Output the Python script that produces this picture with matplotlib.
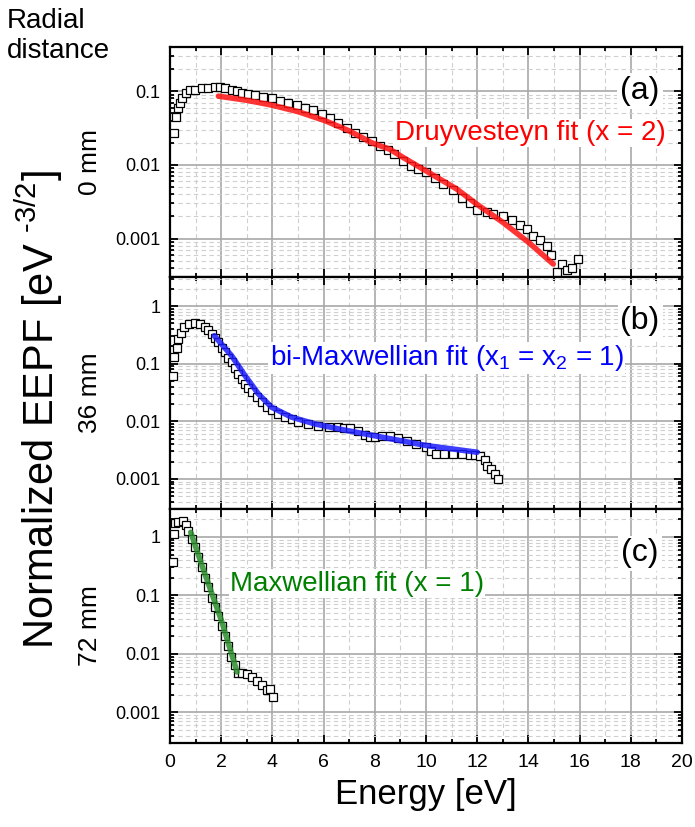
import numpy as np
import matplotlib
matplotlib.use('Agg')
import matplotlib.pyplot as plt
from matplotlib.ticker import LogLocator, MultipleLocator, FuncFormatter, NullFormatter

plt.rcParams['font.family'] = ['Liberation Sans', 'DejaVu Sans']
plt.rcParams['mathtext.fontset'] = 'custom'
plt.rcParams['mathtext.rm'] = 'Liberation Sans'
plt.rcParams['mathtext.it'] = 'Liberation Sans:italic'

# panel (a), 0 mm
e_a = [0.17, 0.23, 0.30, 0.39, 0.48, 0.61, 0.78, 0.98, 1.24, 1.50, 1.76, 1.95,
       2.15, 2.41, 2.60, 2.80, 3.05, 3.32, 3.65, 3.97, 4.30, 4.62, 4.95, 5.27, 5.60, 5.92,
       6.25, 6.57, 6.90, 7.23, 7.55, 7.88, 8.20, 8.50, 8.75, 9.10, 9.40, 9.70, 10.0,
       10.35, 10.68, 11.05, 11.4, 11.7, 12.0, 12.37, 12.6, 13.0, 13.35, 13.67,
       13.93, 14.19, 14.45, 14.71, 14.9, 15.1, 15.3, 15.5, 15.7, 15.95]
f_a = [0.0275, 0.045, 0.060, 0.070, 0.082, 0.096, 0.103, 0.105, 0.110, 0.110, 0.114, 0.114,
       0.110, 0.103, 0.100, 0.096, 0.093, 0.089, 0.084, 0.080, 0.075, 0.070, 0.065, 0.060,
       0.055, 0.049, 0.043, 0.037, 0.032, 0.0275, 0.024, 0.021, 0.018, 0.0158, 0.014,
       0.0113, 0.0098, 0.0088, 0.0080, 0.0067, 0.0055, 0.0045, 0.0036, 0.0030, 0.00245,
       0.0023, 0.00215, 0.00204, 0.0018, 0.00155, 0.00134, 0.00109, 0.00095, 0.00078,
       0.0006, 0.00035, 0.00045, 0.00037, 0.0004, 0.00053]
fit_e_a = [1.89, 3.0, 3.97, 5.0, 6.05, 7.0, 7.88, 8.59, 9.11, 10.0, 11.2, 12.0, 13.0, 14.0, 14.97]
fit_f_a = [0.086, 0.0755, 0.065, 0.053, 0.040, 0.029, 0.020, 0.0163, 0.0126, 0.0083, 0.0047,
           0.0029, 0.00166, 0.00089, 0.00045]

# panel (b), 36 mm
e_b = [0.13, 0.16, 0.26, 0.33, 0.43, 0.56, 0.74, 0.98, 1.17, 1.37, 1.50, 1.63, 1.76, 1.89,
       2.02, 2.15, 2.28, 2.41, 2.54, 2.67, 2.80, 2.93, 3.06, 3.19, 3.38, 3.58, 3.78, 3.97,
       4.23, 4.49, 4.75, 5.01, 5.40, 5.79, 6.20, 6.57, 6.80, 7.03, 7.36, 7.60, 7.80, 8.0,
       8.30, 8.6, 8.90, 9.25, 9.60, 10.0, 10.2, 10.4, 10.7, 11.07, 11.4, 11.7, 11.9, 12.1,
       12.3, 12.4, 12.55, 12.7, 12.83]
f_b = [0.062, 0.129, 0.19, 0.268, 0.34, 0.43, 0.49, 0.51, 0.49, 0.43, 0.38, 0.33, 0.28,
       0.235, 0.19, 0.157, 0.128, 0.106, 0.083, 0.066, 0.055, 0.045, 0.038, 0.032, 0.026,
       0.0215, 0.018, 0.0154, 0.0135, 0.0118, 0.0108, 0.0099, 0.0091, 0.0084, 0.0081,
       0.0079, 0.0077, 0.0076, 0.0069, 0.0058, 0.0054, 0.0053, 0.0055, 0.0056, 0.0051,
       0.0046, 0.0041, 0.0036, 0.0031, 0.0027, 0.0027, 0.0027, 0.0027, 0.0026, 0.0026,
       0.0025, 0.0021, 0.0017, 0.0015, 0.00123, 0.001]
fit_e_b = [1.73, 2.41, 2.93, 3.45, 3.97, 4.75, 5.66, 6.57, 8.0, 10.0, 12.0]
fit_f_b = [0.306, 0.137, 0.062, 0.030, 0.0175, 0.0118, 0.0090, 0.0074, 0.0056, 0.0038, 0.0029]

# panel (c), 72 mm
e_c = [0.13, 0.16, 0.20, 0.33, 0.50, 0.62, 0.72, 0.85, 0.98, 1.11, 1.24, 1.37, 1.50, 1.63,
       1.76, 1.89, 2.02, 2.15, 2.28, 2.40, 2.54, 2.67, 2.80, 3.00, 3.19, 3.39, 3.58, 3.77,
       3.90, 4.04]
f_c = [0.37, 1.14, 1.7, 1.8, 1.86, 1.6, 1.25, 0.93, 0.67, 0.45, 0.30, 0.20, 0.137, 0.092,
       0.063, 0.044, 0.030, 0.020, 0.0135, 0.0089, 0.0065, 0.0047, 0.0048, 0.0046, 0.0040,
       0.0035, 0.0029, 0.0024, 0.0025, 0.0018]
fit_e_c = [0.81, 1.3, 2.02, 2.62]
fit_f_c = [1.2, 0.28, 0.036, 0.0049]

panels = [
    dict(e=e_a, f=f_a, fe=fit_e_a, ff=fit_f_a, ylim=(3e-4, 0.4), col='#ff1010', tcol='#ff0000',
         dist='0 mm', tag='(a)', label='Druyvesteyn fit (x = 2)', lx=0.439, ly=0.596),
    dict(e=e_b, f=f_b, fe=fit_e_b, ff=fit_f_b, ylim=(3e-4, 3.2), col='#1c1cff', tcol='#0000ff',
         dist='36 mm', tag='(b)', label=r'bi-Maxwellian fit (x$_{\rm 1}$ = x$_{\rm 2}$ = 1)',
         lx=0.195, ly=0.621),
    dict(e=e_c, f=f_c, fe=fit_e_c, ff=fit_f_c, ylim=(3e-4, 3.0), col='#2a8c2a', tcol='#008000',
         dist='72 mm', tag='(c)', label='Maxwellian fit (x = 1)', lx=0.117, ly=0.651),
]

W, H = 695, 827
fig = plt.figure(figsize=(6.95, 8.27), dpi=100)
rows = [(47, 277), (277, 509), (509, 743)]
axes = []
for (top, bot), p in zip(rows, panels):
    ax = fig.add_axes([170 / W, 1 - bot / H, 512 / W, (bot - top) / H])
    axes.append(ax)
    ax.set_yscale('log')
    ax.set_xlim(0, 20)
    ax.set_ylim(*p['ylim'])
    ax.xaxis.set_major_locator(MultipleLocator(2))
    ax.xaxis.set_minor_locator(MultipleLocator(1))
    ax.yaxis.set_major_locator(LogLocator(base=10))
    ax.yaxis.set_minor_locator(LogLocator(base=10, subs=np.arange(2, 10)))
    ax.yaxis.set_major_formatter(FuncFormatter(lambda v, pos: f'{v:g}'))
    ax.yaxis.set_minor_formatter(NullFormatter())
    ax.grid(which='major', color='#a8a8a8', lw=1.2, ls='-')
    ax.grid(which='minor', color='#cfcfcf', lw=0.8, ls=(0, (4, 3)))
    ax.set_axisbelow(True)
    ax.tick_params(which='both', direction='in', top=True, right=True, width=1.3)
    ax.tick_params(which='major', length=6)
    ax.tick_params(which='minor', length=3)
    ax.tick_params(axis='y', labelsize=13, pad=7)
    ax.tick_params(axis='x', labelsize=14, pad=8)
    for s in ax.spines.values():
        s.set_linewidth(1.6)

    ax.plot(p['e'], p['f'], ls='none', marker='s', ms=5.5, mfc='white', mec='black', mew=0.9,
            zorder=3)
    ax.plot(p['fe'], p['ff'], color=p['col'], lw=4, alpha=0.85, solid_capstyle='round', zorder=4)

    ax.text(p['lx'], p['ly'], p['label'], transform=ax.transAxes, color=p['tcol'], fontsize=20,
            ha='left', va='baseline', zorder=5,
            bbox=dict(facecolor='white', edgecolor='none', pad=1))
    ax.text(0.918, 0.81, p['tag'], transform=ax.transAxes, fontsize=23, ha='center',
            va='center', zorder=5, bbox=dict(facecolor='white', edgecolor='none', pad=2))
    ax.text(-0.156, 0.5, p['dist'], transform=ax.transAxes, fontsize=19, rotation=90,
            ha='center', va='center')

for ax in axes[:-1]:
    ax.tick_params(labelbottom=False)
axes[-1].set_xlabel('Energy [eV]', fontsize=25, labelpad=5)

fig.text(7 / W, 1 - 8 / H, 'Radial\ndistance', fontsize=20, ha='left', va='top', linespacing=1.2)
fig.text(39 / W, 1 - 410 / H, r'Normalized EEPF [eV $^{\rm \text{-}3/2}$]', fontsize=30,
         rotation=90, ha='center', va='center')

fig.savefig('out.png', dpi=100)
